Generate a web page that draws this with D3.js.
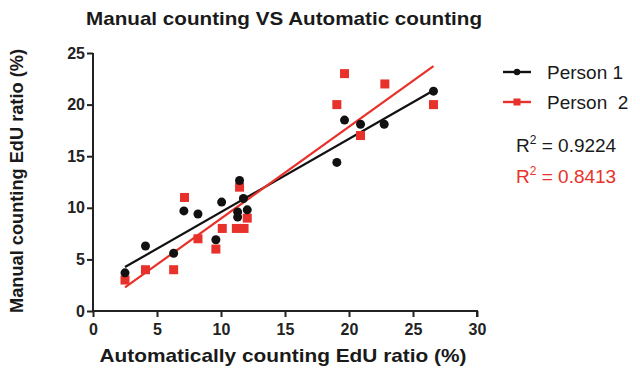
<!DOCTYPE html>
<html>
<head>
<meta charset="utf-8">
<script src="https://cdn.jsdelivr.net/npm/d3@7"></script>
<style>
body { margin: 0; background: #fff; }
svg text { font-family: "Liberation Sans", Arial, sans-serif; }
</style>
</head>
<body>
<svg id="chart" width="640" height="373"></svg>
<script>
// values
var p1X = [2.5, 4.1, 6.3, 7.1, 8.2, 9.6, 10.05, 11.45, 11.3, 11.3, 11.75, 12.05, 19.05, 19.65, 20.9, 22.75, 26.6];
var p1Y = [3.7, 6.3, 5.6, 9.7, 9.4, 6.9, 10.55, 12.65, 9.6, 9.1, 10.9, 9.8, 14.4, 18.5, 18.1, 18.1, 21.3];
var p2X = [2.5, 4.1, 6.3, 7.15, 8.2, 9.6, 10.1, 11.45, 11.2, 11.8, 12.05, 19.65, 22.8, 19.05, 20.9, 26.6];
var p2Y = [3, 4, 4, 11, 7, 6, 8, 12, 8, 8, 9, 23, 22, 20, 17, 20];
var xTicks = [0, 5, 10, 15, 20, 25, 30];
var yTicks = [0, 5, 10, 15, 20, 25];
var seriesNames = ["Person 1", "Person  2"];
var r2Labels = ["0.9224", "0.8413"];
var colors = ["#111111", "#e8312a"];

var svg = d3.select('#chart');

var x = d3.scaleLinear().domain([0, 30]).range([93, 477]);
var y = d3.scaleLinear().domain([0, 25]).range([311, 53]);

var fit = function(xs, ys){
	var n = xs.length;
	var mx = d3.mean(xs), my = d3.mean(ys);
	var sxy = 0, sxx = 0;
	for (var i = 0; i < n; i++) {
		sxy += (xs[i] - mx) * (ys[i] - my);
		sxx += (xs[i] - mx) * (xs[i] - mx);
	}
	var b = sxy / sxx;
	return {b: b, a: my - b * mx};
};

// axes
var xAxis = svg.append('g').attr('transform', 'translate(0,311)')
	.call(d3.axisBottom(x).tickValues(xTicks).tickSize(6).tickPadding(3).tickFormat(d3.format('d')));
var yAxis = svg.append('g').attr('transform', 'translate(93,0)')
	.call(d3.axisLeft(y).tickValues(yTicks).tickSize(6).tickPadding(2).tickFormat(d3.format('d')));

[xAxis, yAxis].forEach(function(ax){
	ax.select('.domain').attr('stroke', '#222').attr('stroke-width', 2);
	ax.selectAll('.tick line').attr('stroke', '#222').attr('stroke-width', 2);
	ax.selectAll('.tick text').attr('fill', '#222')
		.style('font-size', '16px').style('font-weight', 'bold');
});
xAxis.select('.domain').attr('d', 'M' + x(0) + ',0H' + x(30) + 'V6');
yAxis.select('.domain').attr('d', 'M0,' + y(0) + 'V' + y(25));
xAxis.selectAll('.tick text').attr('dy', '0.95em');

// regression lines
var lines = [[p1X, p1Y], [p2X, p2Y]];
lines.forEach(function(s, i){
	var f = fit(s[0], s[1]);
	var x0 = d3.min(s[0]), x1 = d3.max(s[0]);
	svg.append('line')
		.attr('x1', x(x0)).attr('y1', y(f.a + f.b * x0))
		.attr('x2', x(x1)).attr('y2', y(f.a + f.b * x1))
		.attr('stroke', colors[i]).attr('stroke-width', 2.2);
});

// points
svg.selectAll('.p2').data(d3.range(p2X.length)).enter().append('rect')
	.attr('x', function(i){ return x(p2X[i]) - 4.5; })
	.attr('y', function(i){ return y(p2Y[i]) - 4.5; })
	.attr('width', 9).attr('height', 9)
	.attr('fill', colors[1]);

svg.selectAll('.p1').data(d3.range(p1X.length)).enter().append('circle')
	.attr('cx', function(i){ return x(p1X[i]); })
	.attr('cy', function(i){ return y(p1Y[i]); })
	.attr('r', 4.5)
	.attr('fill', colors[0]);

// title and axis labels
svg.append('text').attr('x', 284).attr('y', 25).attr('text-anchor', 'middle')
	.attr('textLength', 396).attr('lengthAdjust', 'spacingAndGlyphs')
	.style('font-size', '19px').style('font-weight', 'bold').attr('fill', '#1a1a1a')
	.text('Manual counting VS Automatic counting');

svg.append('text').attr('x', 283).attr('y', 362).attr('text-anchor', 'middle')
	.attr('textLength', 367).attr('lengthAdjust', 'spacingAndGlyphs')
	.style('font-size', '19px').style('font-weight', 'bold').attr('fill', '#1a1a1a')
	.text('Automatically counting EdU ratio (%)');

svg.append('text').attr('transform', 'translate(23,181) rotate(-90)').attr('text-anchor', 'middle')
	.attr('textLength', 264).attr('lengthAdjust', 'spacingAndGlyphs')
	.style('font-size', '19px').style('font-weight', 'bold').attr('fill', '#1a1a1a')
	.text('Manual counting EdU ratio (%)');

// legend
var legend = svg.append('g');
seriesNames.forEach(function(name, i){
	var ly = 72 + i * 30;
	legend.append('line').attr('x1', 503).attr('x2', 531).attr('y1', ly).attr('y2', ly)
		.attr('stroke', colors[i]).attr('stroke-width', 2.4);
	if (i === 0) {
		legend.append('circle').attr('cx', 517).attr('cy', ly).attr('r', 3.2).attr('fill', colors[i]);
	} else {
		legend.append('rect').attr('x', 513.5).attr('y', ly - 3.5).attr('width', 7).attr('height', 7).attr('fill', colors[i]);
	}
	legend.append('text').attr('x', 547).attr('y', ly + 6.5)
		.style('font-size', '19px').attr('fill', '#1a1a1a')
		.style('white-space', 'pre').attr('xml:space', 'preserve')
		.text(name);
});

r2Labels.forEach(function(v, i){
	var t = svg.append('text').attr('x', 516).attr('y', 152 + i * 31)
		.style('font-size', '19px').attr('fill', i === 0 ? '#1a1a1a' : colors[1]);
	t.append('tspan').text('R');
	t.append('tspan').attr('dy', -8).style('font-size', '12px').text('2');
	t.append('tspan').attr('dy', 8).text(' = ' + v);
});
</script>
</body>
</html>
